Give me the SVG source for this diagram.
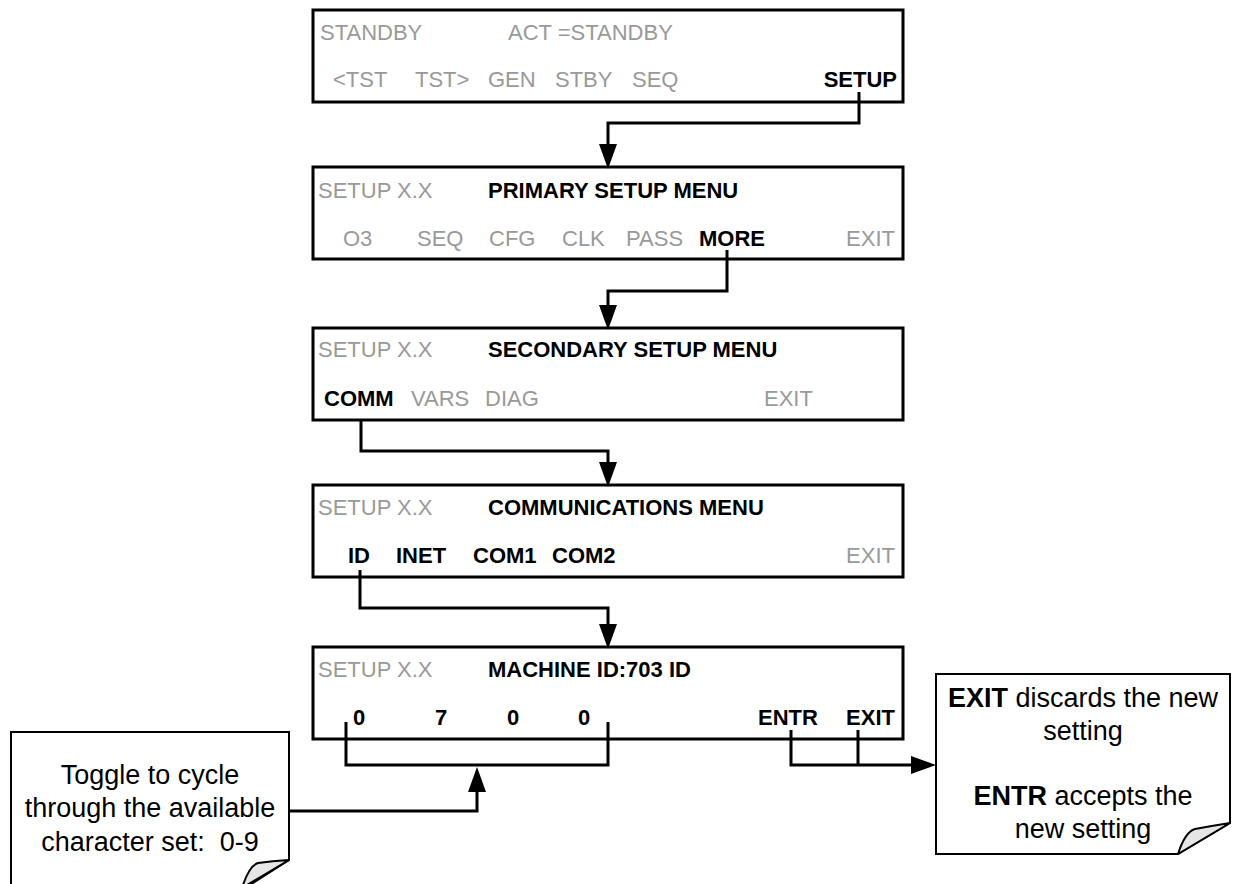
<svg xmlns="http://www.w3.org/2000/svg" width="1234" height="884" viewBox="0 0 1234 884">
<style>
text{font-family:"Liberation Sans",Arial,sans-serif;font-size:22px}
.g{fill:#999999}
.b{font-weight:bold;fill:#000}
.box{fill:#fff;stroke:#000;stroke-width:3}
.con{fill:none;stroke:#000;stroke-width:3}
.note{fill:#fff;stroke:#000;stroke-width:2;stroke-linejoin:miter}
.curl{fill:#e6e6e6;stroke:#000;stroke-width:2;stroke-linejoin:round}
.nt{font-size:27px;fill:#000;text-anchor:middle}
</style>
<defs>
<marker id="ah" viewBox="0 0 25 18" refX="13" refY="9" markerWidth="25" markerHeight="18" markerUnits="userSpaceOnUse" orient="auto">
<path d="M0,0 L25,9 L0,18 Z" fill="#000"/>
</marker>
</defs>

<g id="screen-standby">
<rect class="box" x="313" y="10" width="590" height="92"/>
<text class="g" x="320" y="40">STANDBY</text>
<text class="g" x="508" y="40">ACT =STANDBY</text>
<text class="g" x="333" y="87">&lt;TST</text>
<text class="g" x="415" y="87">TST&gt;</text>
<text class="g" x="488" y="87">GEN</text>
<text class="g" x="555" y="87">STBY</text>
<text class="g" x="632" y="87">SEQ</text>
<text class="b" x="897" y="87" text-anchor="end">SETUP</text>
</g>

<g id="screen-primary">
<rect class="box" x="313" y="167" width="590" height="92"/>
<text class="g" x="318" y="198">SETUP X.X</text>
<text class="b" x="488" y="198">PRIMARY SETUP MENU</text>
<text class="g" x="343" y="246">O3</text>
<text class="g" x="417" y="246">SEQ</text>
<text class="g" x="489" y="246">CFG</text>
<text class="g" x="562" y="246">CLK</text>
<text class="g" x="626" y="246">PASS</text>
<text class="b" x="699" y="246">MORE</text>
<text class="g" x="895" y="246" text-anchor="end">EXIT</text>
</g>

<g id="screen-secondary">
<rect class="box" x="313" y="328" width="590" height="92"/>
<text class="g" x="318" y="357">SETUP X.X</text>
<text class="b" x="488" y="357">SECONDARY SETUP MENU</text>
<text class="b" x="324" y="406">COMM</text>
<text class="g" x="411" y="406">VARS</text>
<text class="g" x="485" y="406">DIAG</text>
<text class="g" x="764" y="406">EXIT</text>
</g>

<g id="screen-comm">
<rect class="box" x="313" y="485" width="590" height="92"/>
<text class="g" x="318" y="515">SETUP X.X</text>
<text class="b" x="488" y="515">COMMUNICATIONS MENU</text>
<text class="b" x="348" y="563">ID</text>
<text class="b" x="396" y="563">INET</text>
<text class="b" x="473" y="563">COM1</text>
<text class="b" x="552" y="563">COM2</text>
<text class="g" x="895" y="563" text-anchor="end">EXIT</text>
</g>

<g id="screen-machine-id">
<rect class="box" x="313" y="647" width="590" height="92"/>
<text class="g" x="318" y="677">SETUP X.X</text>
<text class="b" x="488" y="677">MACHINE ID:703 ID</text>
<text class="b" x="353" y="725">0</text>
<text class="b" x="435" y="725">7</text>
<text class="b" x="507" y="725">0</text>
<text class="b" x="578" y="725">0</text>
<text class="b" x="758" y="725">ENTR</text>
<text class="b" x="895" y="725" text-anchor="end">EXIT</text>
</g>

<g id="note-toggle">
<path class="note" d="M11,732 H289 V860 L242,890 H11 Z"/>
<path class="curl" d="M242,888 Q249,866 258,863 Q272,861 289,860 Z"/>
<text class="nt" x="150" y="784">Toggle to cycle</text>
<text class="nt" x="150" y="817">through the available</text>
<text class="nt" x="150" y="851" xml:space="preserve">character set:  0-9</text>
</g>

<g id="note-exit-entr">
<path class="note" d="M936,674 H1230 V823 L1178,854 H936 Z"/>
<path class="curl" d="M1178,854 Q1185,832 1195,829 Q1211,826 1230,823 Z"/>
<text class="nt" x="1083" y="707"><tspan font-weight="bold">EXIT</tspan> discards the new</text>
<text class="nt" x="1083" y="740">setting</text>
<text class="nt" x="1083" y="805"><tspan font-weight="bold">ENTR</tspan> accepts the</text>
<text class="nt" x="1083" y="838">new setting</text>
</g>

<g id="connectors">
<path class="con" d="M859,92 V123 H608 V157" marker-end="url(#ah)"/>
<path class="con" d="M727,250 V291 H608 V318" marker-end="url(#ah)"/>
<path class="con" d="M361,420 V451 H608 V475" marker-end="url(#ah)"/>
<path class="con" d="M360,570 V608 H608 V637" marker-end="url(#ah)"/>
<path class="con" d="M346,722 V765 H608 V722"/>
<path class="con" d="M289,811 H477 V779" marker-end="url(#ah)"/>
<path class="con" d="M791,730 V765 H924" marker-end="url(#ah)"/>
<path class="con" d="M858,730 V765"/>
</g>
</svg>
